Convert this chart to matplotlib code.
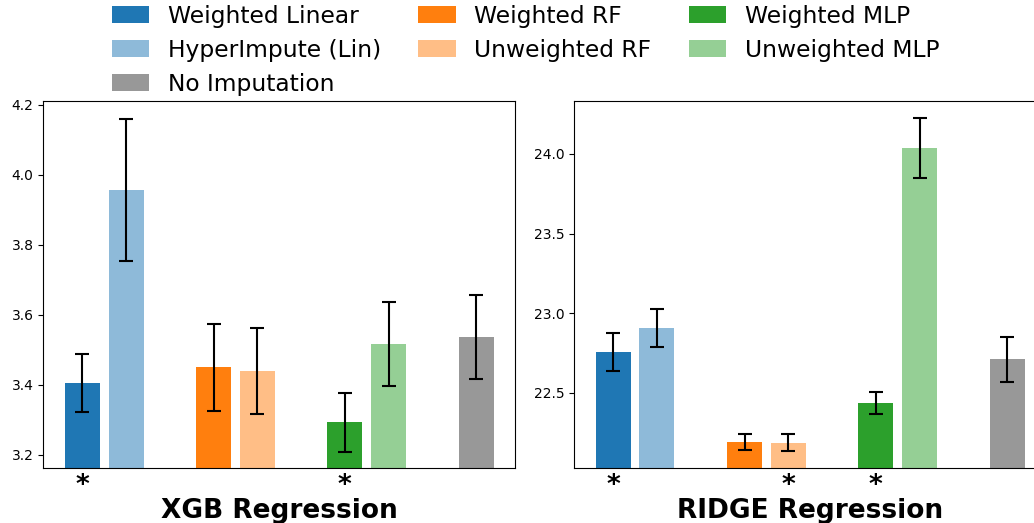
#!/usr/bin/env python3

import matplotlib

matplotlib.use("Agg")
import matplotlib.pyplot as plt
from matplotlib.transforms import blended_transform_factory

# bar order as drawn left to right
methods = [
    "Weighted Linear",
    "HyperImpute (Lin)",
    "Weighted RF",
    "Unweighted RF",
    "Weighted MLP",
    "Unweighted MLP",
    "No Imputation",
]
positions = [0, 1, 3, 4, 6, 7, 9]

xgb_mean = [3.405, 3.956, 3.449, 3.439, 3.292, 3.515, 3.536]
xgb_err = [0.083, 0.203, 0.124, 0.122, 0.084, 0.120, 0.121]
xgb_star = [True, False, False, False, True, False, False]

ridge_mean = [22.756, 22.904, 22.192, 22.186, 22.435, 24.036, 22.709]
ridge_err = [0.120, 0.120, 0.050, 0.055, 0.070, 0.190, 0.140]
ridge_star = [True, False, False, True, True, False, False]

xgb_ylim = (3.163, 4.209)
ridge_ylim = (22.03, 24.33)

# legend order (column-major, 3 columns)
legend_order = [0, 1, 6, 2, 3, 4, 5]

colors = ["tab:blue", "tab:blue", "tab:orange", "tab:orange", "tab:green", "tab:green", "#7f7f7f"]
alphas = [1.0, 0.5, 1.0, 0.5, 1.0, 0.5, 0.8]


def draw_panel(ax, means, errs, stars, ylim, title):
    bars = []
    for x, m, e, c, a, lab in zip(positions, means, errs, colors, alphas, methods):
        b = ax.bar(x, m, width=0.8, color=c, alpha=a, label=lab)
        ax.errorbar(x, m, yerr=e, fmt="none", ecolor="black", elinewidth=1.5,
                    capsize=5, capthick=1.5)
        bars.append(b)
    ax.set_ylim(*ylim)
    ax.set_xticks([])

    trans = blended_transform_factory(ax.transData, ax.transAxes)
    for x, s in zip(positions, stars):
        if s:
            ax.text(x, -0.05, "*", transform=trans, ha="center", va="center",
                    fontsize=19, fontweight="bold")
    ax.text(0.5, -0.138, title, transform=ax.transAxes, ha="center", va="baseline",
            fontsize=19, fontweight="bold")
    return bars


def main():
    fig = plt.figure(figsize=(10.34, 5.23), dpi=100)
    ax1 = fig.add_axes([0.0419, 0.1061, 0.4562, 0.700])
    ax2 = fig.add_axes([0.5554, 0.1061, 0.4562, 0.700])

    bars = draw_panel(ax1, xgb_mean, xgb_err, xgb_star, xgb_ylim, "XGB Regression")
    draw_panel(ax2, ridge_mean, ridge_err, ridge_star, ridge_ylim, "RIDGE Regression")

    handles = [bars[i] for i in legend_order]
    labels = [methods[i] for i in legend_order]
    fig.legend(handles, labels, ncol=3, frameon=False, fontsize=16.8,
               handlelength=1.6, labelspacing=0.47, columnspacing=1.6,
               loc="upper left", bbox_to_anchor=(0.0877, 1.031))

    fig.savefig("out.png", dpi=100)
    plt.close(fig)


if __name__ == "__main__":
    main()
